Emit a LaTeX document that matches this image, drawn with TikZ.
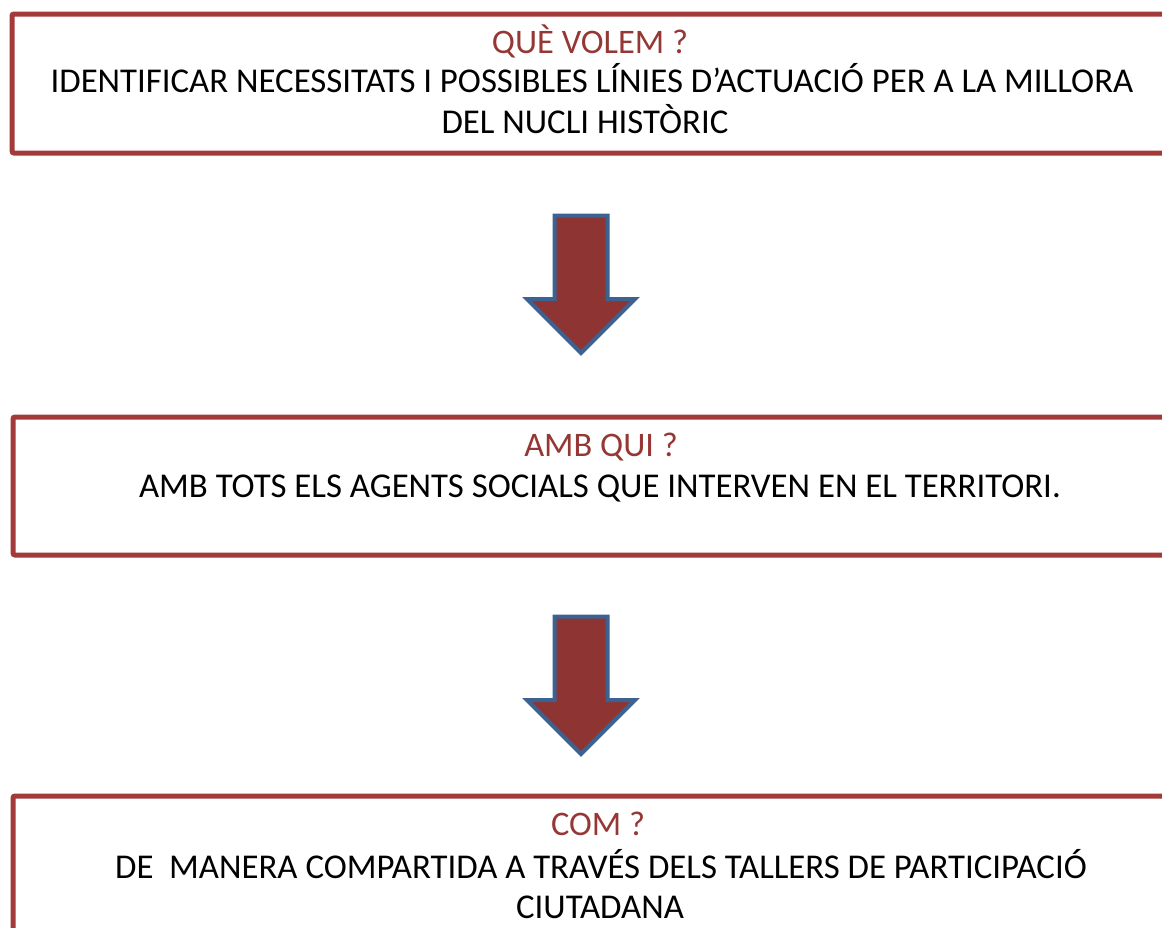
\documentclass[tikz,border=0pt]{standalone}
\usepackage{fontspec}
\setmainfont{Carlito}
\definecolor{boxred}{RGB}{163,58,58}
\definecolor{titlered}{RGB}{149,55,53}
\definecolor{arrowfill}{RGB}{142,52,50}
\definecolor{arrowblue}{RGB}{60,98,146}

\begin{document}
\begin{tikzpicture}[x=1pt,y=-1pt,
  panel/.style={draw=boxred, line width=5pt, rounded corners=2pt, inner sep=0pt},
  heading/.style={anchor=base, text=titlered, inner sep=0pt, font=\fontsize{34.4}{42}\selectfont},
  bodyline/.style={anchor=base, text=black, inner sep=0pt, font=\fontsize{34.8}{42}\selectfont},
  blockarrow/.style={fill=arrowfill, draw=arrowblue, line width=4pt, line join=miter}]
  \useasboundingbox (0,0) rectangle (1162,927);
  % boxes
  \node[panel, minimum width=1154pt, minimum height=139pt] (wbox) at (589,83.5) {};
  \node[panel, minimum width=1174pt, minimum height=138pt] (qbox) at (600,486) {};
  \node[panel, minimum width=1174pt, minimum height=139pt] (cbox) at (600,865.5) {};
  % texts
  \node[heading] (wtitle) at (590,53) {QUÈ VOLEM ?};
  \node[bodyline] (wline1) at (592,92) {IDENTIFICAR NECESSITATS I POSSIBLES LÍNIES D’ACTUACIÓ PER A LA MILLORA};
  \node[bodyline] (wline2) at (585,133) {DEL NUCLI HISTÒRIC};
  \node[heading] (qtitle) at (601,456) {AMB QUI ?};
  \node[bodyline] (qline1) at (600,497) {AMB TOTS ELS AGENTS SOCIALS QUE INTERVEN EN EL TERRITORI.};
  \node[heading] (ctitle) at (598,835) {COM ?};
  \node[bodyline] (cline1) at (601,878) {DE\ \ MANERA COMPARTIDA A TRAVÉS DELS TALLERS DE PARTICIPACIÓ};
  \node[bodyline] (cline2) at (600,918) {CIUTADANA};
  % arrows
  \foreach \dy in {0,401}
    \draw[blockarrow] (554.5,215.5+\dy) -- (607.5,215.5+\dy) -- (607.5,299+\dy)
      -- (635,299+\dy) -- (581,353+\dy) -- (527,299+\dy) -- (554.5,299+\dy) -- cycle;
\end{tikzpicture}
\end{document}
